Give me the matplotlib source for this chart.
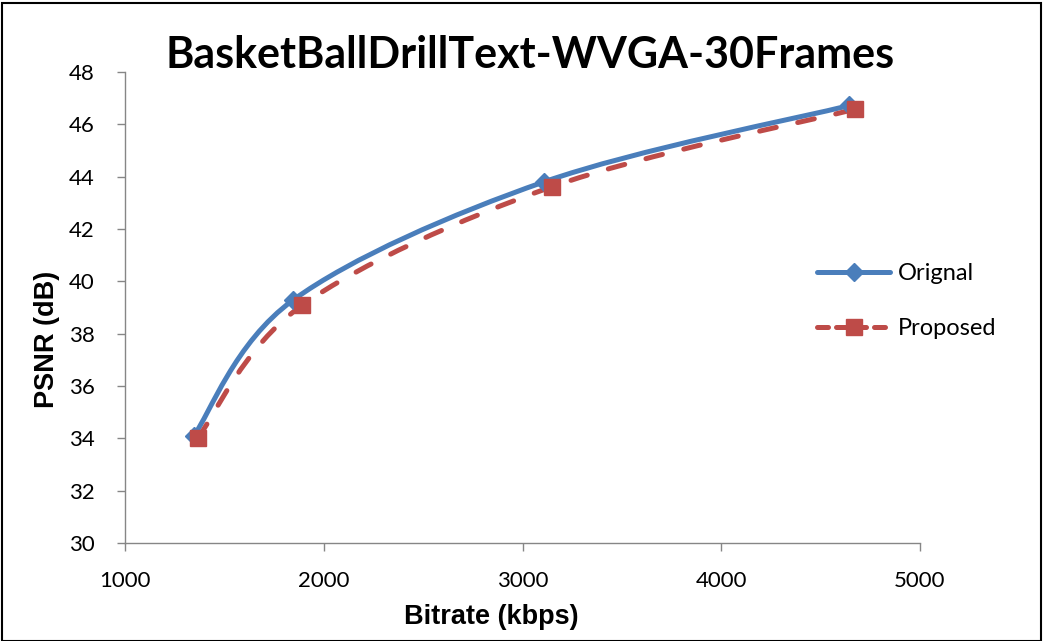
import matplotlib
matplotlib.use("Agg")
import matplotlib.pyplot as plt
from matplotlib.path import Path
from matplotlib.patches import PathPatch, Rectangle
from matplotlib.lines import Line2D
import numpy as np

title = "BasketBallDrillText-WVGA-30Frames"
x_label = "Bitrate (kbps)"
y_label = "PSNR (dB)"

orig_rate = [1345, 1845, 3108, 4645]
orig_psnr = [34.08, 39.28, 43.80, 46.72]
prop_rate = [1365, 1890, 3150, 4675]
prop_psnr = [34.0, 39.08, 43.62, 46.58]

x_ticks = [1000, 2000, 3000, 4000, 5000]
y_ticks = [30, 32, 34, 36, 38, 40, 42, 44, 46, 48]

blue = "#4A7EBB"
red = "#BE4B48"
dash = (0, (3.4, 4.4))


def smooth_path(xs, ys):
    """Cubic Bezier through the points, Catmull-Rom style control points."""
    pts = np.column_stack([xs, ys]).astype(float)
    n = len(pts)
    verts = [tuple(pts[0])]
    codes = [Path.MOVETO]
    for i in range(n - 1):
        p0 = pts[i - 1] if i > 0 else pts[i]
        p1 = pts[i]
        p2 = pts[i + 1]
        p3 = pts[i + 2] if i + 2 < n else pts[i + 1]
        c1 = p1 + (p2 - p0) / 6.0
        c2 = p2 - (p3 - p1) / 6.0
        verts += [tuple(c1), tuple(c2), tuple(p2)]
        codes += [Path.CURVE4] * 3
    return Path(verts, codes)


W, H = 1045, 641
fig = plt.figure(figsize=(W / 100, H / 100), dpi=100)
ax = fig.add_axes([125 / W, 1 - 543 / H, (920 - 125) / W, (543 - 72) / H])

ax.add_patch(PathPatch(smooth_path(orig_rate, orig_psnr), fill=False,
                       edgecolor=blue, lw=3.6, capstyle="round", zorder=3))
ax.add_patch(PathPatch(smooth_path(prop_rate, prop_psnr), fill=False,
                       edgecolor=red, lw=3.6, linestyle=dash,
                       capstyle="round", zorder=4))
ax.plot(orig_rate, orig_psnr, ls="none", marker="D", ms=9, color=blue, zorder=5)
ax.plot(prop_rate, prop_psnr, ls="none", marker="s", ms=12, color=red, zorder=6)

ax.set_xlim(1000, 5000)
ax.set_ylim(30, 48)
ax.set_xticks(x_ticks)
ax.set_yticks(y_ticks)
for s in ("top", "right"):
    ax.spines[s].set_visible(False)
for s in ("left", "bottom"):
    ax.spines[s].set_color("#868686")
    ax.spines[s].set_linewidth(1.0)
ax.tick_params(direction="out", length=6, width=1.0, color="#868686",
               labelsize=16)
ax.tick_params(axis="x", pad=14)
ax.tick_params(axis="y", pad=16)
for lab in ax.get_xticklabels() + ax.get_yticklabels():
    lab.set_fontfamily("Lato")

fig.text(491 / W, 1 - 617 / H, x_label, ha="center", va="center",
         fontsize=19.5, fontweight="bold", fontfamily="Liberation Sans")
fig.text(47 / W, 1 - 339 / H, y_label, ha="center", va="center",
         rotation=90, fontsize=19.5, fontweight="bold",
         fontfamily="Liberation Sans")

fig.text(530 / W, 1 - 55 / H, title, ha="center", va="center",
         fontsize=31, fontweight="bold", fontfamily="Lato")

handles = [
    Line2D([], [], color=blue, lw=3.6, marker="D", ms=9,
           solid_capstyle="round"),
    Line2D([], [], color=red, lw=3.6, marker="s", ms=12,
           linestyle=(0, (2.2, 1.6)), dash_capstyle="round"),
]
leg = fig.legend(handles, ["Orignal", "Proposed"], loc="center left",
                 bbox_to_anchor=(796 / W, 1 - 301 / H), frameon=False,
                 prop={"family": "Lato", "size": 17}, handlelength=3.1,
                 labelspacing=1.45, handletextpad=0.3)

fig.patches.append(Rectangle((2 / W, 0), 1 - 6 / W, 1 - 3 / H,
                             transform=fig.transFigure, fill=False,
                             edgecolor="black", lw=1.5))

fig.savefig("out.png", dpi=100)
